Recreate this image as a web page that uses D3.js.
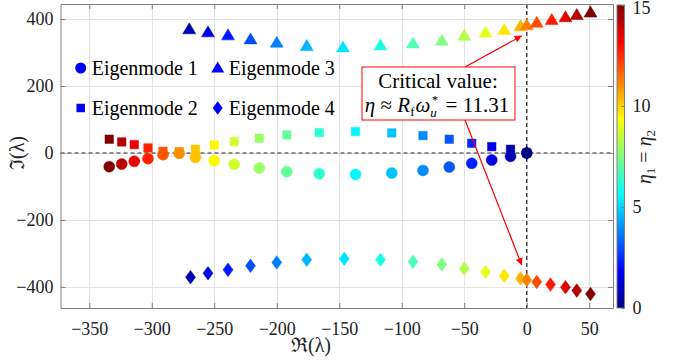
<!DOCTYPE html>
<html><head><meta charset="utf-8">
<script src="https://cdn.jsdelivr.net/npm/d3@7"></script>
<style>body{margin:0;background:#fff}</style>
</head><body><svg id="c" width="681" height="360"></svg>
<script>
// ---- data ----
const xTicks = [-350, -300, -250, -200, -150, -100, -50, 0, 50];
const yTicks = [-400, -200, 0, 200, 400];
const cbTicks = [0, 5, 10, 15];

// Eigenmode 1 (circles)
const mode1Re  = [0, -13, -28, -44, -62, -83, -108, -137, -166, -192, -214, -234, -250, -265, -278, -291, -303, -314, -324, -334];
const mode1Im  = [0, -10, -21, -31, -42, -52, -60, -64, -62, -56, -45, -34, -23, -13, -1, -5, -17, -25, -33, -41];
const mode1Eta = [0, 0.79, 1.58, 2.37, 3.16, 3.95, 4.74, 5.53, 6.32, 7.11, 7.89, 8.68, 9.47, 10.26, 11.05, 11.84, 12.63, 13.42, 14.21, 15];
// Eigenmode 2 (squares)
const mode2Re  = [0, -13, -28, -44, -62, -83, -108, -137, -166, -192, -214, -234, -250, -265, -278, -291, -303, -314, -324, -334];
const mode2Im  = [0, 11, 19, 29, 41, 52, 60, 64, 61, 54, 44, 34, 24, 11, 4, 5, 15, 25, 33, 41];
const mode2Eta = [0, 0.79, 1.58, 2.37, 3.16, 3.95, 4.74, 5.53, 6.32, 7.11, 7.89, 8.68, 9.47, 10.26, 11.05, 11.84, 12.63, 13.42, 14.21, 15];
// Eigenmode 3 (triangles)
const mode3Re  = [-270, -255, -239, -221, -200, -176, -147, -117, -91, -68, -50, -33, -18, -5, 0, 8, 20, 31, 40, 51];
const mode3Im  = [369, 360, 351, 339, 329, 319, 315, 321, 327, 335, 350, 359, 367, 378, 381, 389, 397, 405, 412, 419];
const mode3Eta = [0.75, 1.5, 2.25, 3, 3.75, 4.5, 5.25, 6, 6.75, 7.5, 8.25, 9, 9.75, 10.5, 11.25, 12, 12.75, 13.5, 14.25, 15];
// Eigenmode 4 (diamonds)
const mode4Re  = [0, -269, -255, -239, -221, -200, -176, -146, -117, -91, -68, -50, -33, -18, -5, 0, 8, 19, 31, 40, 51];
const mode4Im  = [0, -371, -359, -349, -337, -327, -319, -316, -319, -325, -333, -345, -355, -367, -375, -379, -385, -393, -401, -411, -421];
const mode4Eta = [0, 0.75, 1.5, 2.25, 3, 3.75, 4.5, 5.25, 6, 6.75, 7.5, 8.25, 9, 9.75, 10.5, 11.25, 12, 12.75, 13.5, 14.25, 15];

const legendLabels = ["Eigenmode 1", "Eigenmode 2", "Eigenmode 3", "Eigenmode 4"];

// ---- setup ----
const FONT = '"Liberation Serif"';
const svg = d3.select("#c");
const x = d3.scaleLinear().domain([-373, 69]).range([60.5, 613]);
const y = d3.scaleLinear().domain([-463, 445]).range([308, 4]);
const etaScale = d3.scaleLinear().domain([0, 15]).range([0, 1]);
const cbY = d3.scaleLinear().domain([0, 15]).range([308, 5]);

function jet(t) {
  const cl = v => Math.max(0, Math.min(1, v));
  const r = cl(1.5 - Math.abs(4 * t - 3));
  const g = cl(1.5 - Math.abs(4 * t - 2));
  const b = cl(1.5 - Math.abs(4 * t - 1));
  return d3.rgb(r * 255, g * 255, b * 255).formatHex();
}
const col = eta => jet(etaScale(eta));

const [x0, x1] = x.range();
const [yb, yt] = y.range();

// background
svg.append("rect").attr("x", x0).attr("y", yt).attr("width", x1 - x0).attr("height", yb - yt).attr("fill", "#fff");

// grid
const grid = svg.append("g").attr("stroke", "#e3e3e3").attr("stroke-width", 1);
grid.selectAll("line.gx").data(xTicks).join("line")
  .attr("x1", d => Math.round(x(d)) + 0.5).attr("x2", d => Math.round(x(d)) + 0.5)
  .attr("y1", yt).attr("y2", yb);
grid.selectAll("line.gy").data(yTicks).join("line")
  .attr("x1", x0).attr("x2", x1)
  .attr("y1", d => Math.round(y(d)) + 0.5).attr("y2", d => Math.round(y(d)) + 0.5);

// dashed zero lines
svg.append("line").attr("x1", x(0)).attr("x2", x(0)).attr("y1", yt).attr("y2", yb)
  .attr("stroke", "#222").attr("stroke-width", 1.2).attr("stroke-dasharray", "4,3");
svg.append("line").attr("x1", x0).attr("x2", x1).attr("y1", y(0)).attr("y2", y(0))
  .attr("stroke", "#222").attr("stroke-width", 1.2).attr("stroke-dasharray", "4,3");

// axes
function styleAxis(g) {
  g.selectAll("path.domain").attr("stroke", "#808080");
  g.selectAll(".tick line").attr("stroke", "#808080");
  g.selectAll("text").attr("font-size", 18).attr("fill", "#222");
}
svg.append("g").attr("transform", `translate(0,${yb})`)
  .call(d3.axisBottom(x).tickValues(xTicks).tickSize(-5).tickPadding(9).tickSizeOuter(0).tickFormat(d3.format("d")))
  .call(styleAxis).selectAll("text").attr("dy", "1em");
svg.append("g").attr("transform", `translate(0,${yt})`)
  .call(d3.axisTop(x).tickValues(xTicks).tickSize(-5).tickSizeOuter(0).tickFormat(""))
  .call(styleAxis);
svg.append("g").attr("transform", `translate(${x0},0)`)
  .call(d3.axisLeft(y).tickValues(yTicks).tickSize(-5).tickPadding(7).tickSizeOuter(0).tickFormat(d3.format("d")))
  .call(styleAxis);
svg.append("g").attr("transform", `translate(${x1},0)`)
  .call(d3.axisRight(y).tickValues(yTicks).tickSize(-5).tickSizeOuter(0).tickFormat(""))
  .call(styleAxis);

// axis labels
svg.append("text").attr("x", 311).attr("y", 352).attr("text-anchor", "middle")
  .attr("font-size", 20).attr("fill", "#222").text("ℜ(λ)");
svg.append("text").attr("transform", "translate(24,153) rotate(-90)").attr("text-anchor", "middle")
  .attr("font-size", 20).attr("fill", "#222").text("ℑ(λ)");

// ---- markers ----
const diamondPath = (w, h) => `M0,${-h}L${w},0L0,${h}L${-w},0Z`;
const symCircle = d3.symbol().type(d3.symbolCircle).size(95)();
const symSquare = d3.symbol().type(d3.symbolSquare).size(72)();
const symTri = (() => { const w = 6.5, h = 11; return `M0,${-h * 0.6}L${w},${h * 0.4}L${-w},${h * 0.4}Z`; })();
const symDia = diamondPath(5, 6.8);

function drawMode(re, im, eta, path) {
  const data = re.map((r, i) => ({ re: r, im: im[i], eta: eta[i] }));
  svg.append("g").selectAll("path").data(data).join("path")
    .attr("d", path)
    .attr("transform", d => `translate(${x(d.re)},${y(d.im)})`)
    .attr("fill", d => col(d.eta))
    .attr("stroke", d => col(d.eta)).attr("stroke-width", 0.5);
}
drawMode(mode1Re, mode1Im, mode1Eta, symCircle);
drawMode(mode2Re, mode2Im, mode2Eta, symSquare);
drawMode(mode3Re, mode3Im, mode3Eta, symTri);
drawMode(mode4Re, mode4Im, mode4Eta, symDia);

// ---- legend ----
const legendPos = [[80.7, 68], [80.7, 108], [217.7, 68], [217.7, 108]];
const legendSyms = [symCircle, symSquare, symTri, symDia];
legendLabels.forEach((lab, i) => {
  const [lx, ly] = legendPos[i];
  svg.append("path").attr("d", legendSyms[i]).attr("transform", `translate(${lx},${ly})`).attr("fill", "#0000ff");
  svg.append("text").attr("x", lx + 11).attr("y", ly + 6.5).attr("font-size", 20)
    .attr("fill", "#000").text(lab);
});

// ---- annotation ----
const defs = svg.append("defs");
defs.append("marker").attr("id", "ah").attr("viewBox", "0 0 10 10").attr("refX", 10).attr("refY", 5)
  .attr("markerWidth", 9).attr("markerHeight", 7).attr("markerUnits", "userSpaceOnUse").attr("orient", "auto")
  .append("path").attr("d", "M0,0L10,5L0,10Z").attr("fill", "#ff0000");
svg.append("line").attr("x1", 465).attr("y1", 67).attr("x2", x(-4)).attr("y2", y(350))
  .attr("stroke", "#ff0000").attr("stroke-width", 1.2).attr("marker-end", "url(#ah)");
svg.append("line").attr("x1", 465).attr("y1", 120).attr("x2", x(-4)).attr("y2", y(-335))
  .attr("stroke", "#ff0000").attr("stroke-width", 1.2).attr("marker-end", "url(#ah)");
svg.append("rect").attr("x", 362).attr("y", 67).attr("width", 153).attr("height", 53)
  .attr("fill", "#fff").attr("stroke", "#ff0000").attr("stroke-width", 1);
svg.append("text").attr("x", 438).attr("y", 88).attr("text-anchor", "middle")
  .attr("font-size", 21).attr("fill", "#000").text("Critical value:");
const t2 = svg.append("text").attr("x", 437).attr("y", 112).attr("text-anchor", "middle")
  .attr("font-size", 21).attr("fill", "#000");
t2.append("tspan").attr("font-style", "italic").text("η");
t2.append("tspan").text(" ≈ ");
t2.append("tspan").attr("font-style", "italic").text("R");
t2.append("tspan").attr("font-size", 13).attr("dy", 4).text("f");
t2.append("tspan").attr("font-style", "italic").attr("dy", -4).attr("dx", 1).text("ω");
t2.append("tspan").attr("font-style", "italic").attr("font-size", 13).attr("dy", 5).text("u");
t2.append("tspan").attr("font-size", 13).attr("dy", -13).attr("dx", -5).text("*");
t2.append("tspan").attr("dy", 8).attr("dx", 2).text(" = 11.31");

// ---- colorbar ----
const grad = defs.append("linearGradient").attr("id", "jetg").attr("x1", 0).attr("y1", 1).attr("x2", 0).attr("y2", 0);
d3.range(0, 1.0001, 0.0625).forEach(t => grad.append("stop").attr("offset", t).attr("stop-color", jet(t)));
svg.append("rect").attr("x", 617).attr("y", cbY(15)).attr("width", 7.5).attr("height", cbY(0) - cbY(15))
  .attr("fill", "url(#jetg)").attr("stroke", "#808080").attr("stroke-width", 1);
const cbAxis = svg.append("g").attr("transform", "translate(624.5,0)")
  .call(d3.axisRight(cbY).tickValues(cbTicks).tickSize(-3).tickPadding(8).tickSizeOuter(0))
  .call(styleAxis);
cbAxis.select("path.domain").remove();
cbAxis.selectAll(".tick text").filter(d => d === 15).attr("dy", "0.45em");
const t3 = svg.append("text").attr("transform", "translate(651,157) rotate(-90)").attr("text-anchor", "middle")
  .attr("font-size", 20).attr("fill", "#222");
t3.append("tspan").attr("font-style", "italic").text("η");
t3.append("tspan").attr("font-size", 13).attr("dy", 4).text("1");
t3.append("tspan").attr("dy", -4).text(" = ");
t3.append("tspan").attr("font-style", "italic").text("η");
t3.append("tspan").attr("font-size", 13).attr("dy", 4).text("2");

// fonts: apply as inline style to every text (overrides axis font attrs)
svg.selectAll("text").style("font-family", FONT);
svg.selectAll("g").attr("font-family", null);
</script></body></html>
